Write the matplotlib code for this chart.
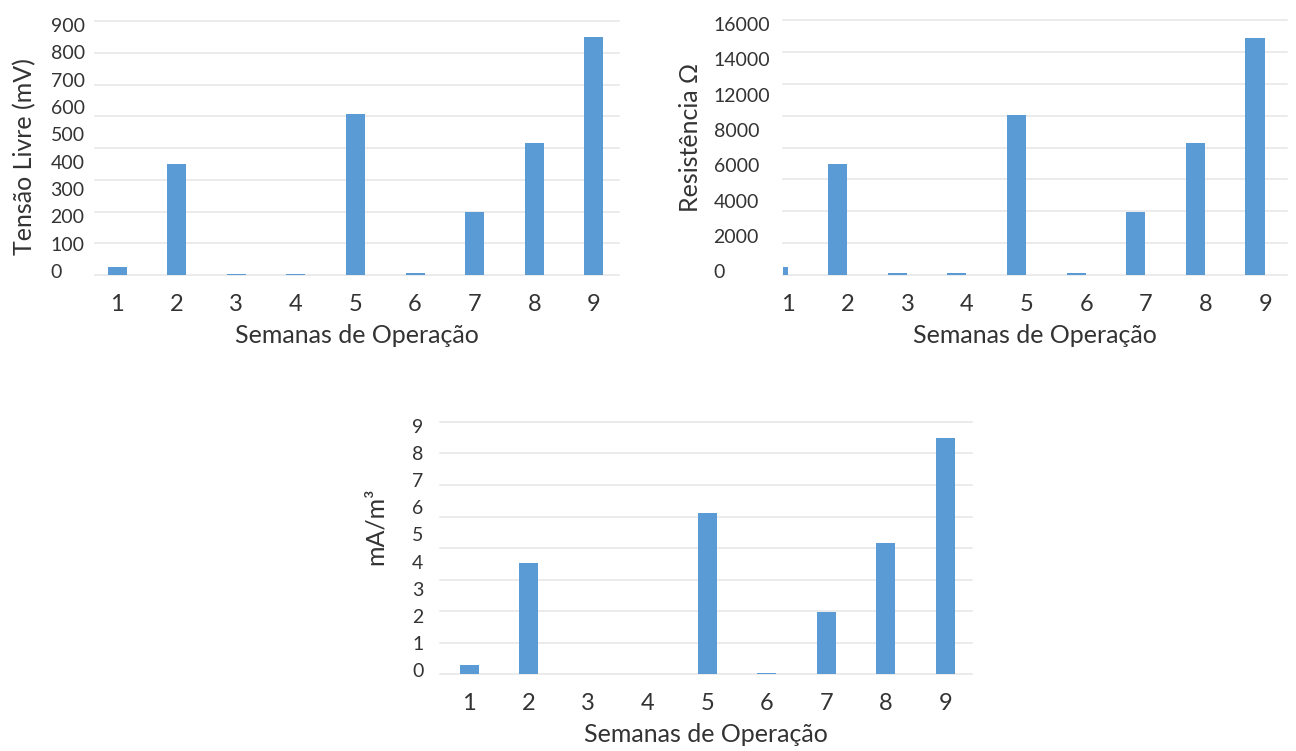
import matplotlib
matplotlib.use('Agg')
import matplotlib.pyplot as plt
import numpy as np

plt.rcParams['font.family'] = ['Lato', 'DejaVu Sans']

# ------------------------------------------------------------
# dados
# ------------------------------------------------------------
semanas = [1, 2, 3, 4, 5, 6, 7, 8, 9]
semanas_txt = ['1', '2', '3', '4', '5', '6', '7', '8', '9']

tensao_mv = [28, 393, 4, 4, 570, 6, 223, 468, 843]
resistencia = [500, 6965, 100, 110, 10040, 150, 3953, 8283, 14872]
densidade = [0.32, 3.96, 0.0, 0.0, 5.75, 0.03, 2.21, 4.68, 8.43]

ticks_tensao = ['0', '100', '200', '300', '400', '500', '600', '700', '800', '900']
ticks_resist = ['0', '2000', '4000', '6000', '8000', '12000', '14000', '16000']
ticks_dens = ['0', '1', '2', '3', '4', '5', '6', '7', '8', '9']

AZUL = '#5B9BD5'
GRADE = '#E6E6E6'
TEXTO = '#333333'


def desenha(ax, valores, ymax, rotulos_y, n_grade, ylabel, xlim, pad_y,
            ylab_xy, desloc_x=0.0):
    ax.bar(semanas, valores, width=0.32, color=AZUL, zorder=3)
    ax.set_xlim(*xlim)
    ax.set_ylim(0, ymax)

    # linhas de grade (independentes dos rótulos, como no original)
    for g in np.linspace(0, ymax, n_grade):
        ax.axhline(g, color=GRADE, linewidth=1.1, zorder=1, clip_on=False)

    # rótulos do eixo y um pouco "comprimidos", como no original
    ax.set_yticks(np.linspace(0.015 * ymax, 0.985 * ymax, len(rotulos_y)))
    ax.set_yticklabels(rotulos_y)
    for t in ax.get_yticklabels():
        t.set_horizontalalignment('left')
    ax.tick_params(axis='y', length=0, pad=pad_y, labelsize=14, labelcolor=TEXTO)

    ax.set_xticks(np.array(semanas) + desloc_x)
    ax.set_xticklabels(semanas_txt)
    ax.tick_params(axis='x', length=0, pad=14, labelsize=17, labelcolor=TEXTO)

    ax.set_xlabel('Semanas de Operação', fontsize=18, color=TEXTO, labelpad=6)
    ax.set_ylabel(ylabel, fontsize=18, color=TEXTO, va='center')
    ax.yaxis.set_label_coords(*ylab_xy)

    for s in ax.spines.values():
        s.set_visible(False)


fig = plt.figure(figsize=(12.96, 7.51), dpi=100)

ax1 = fig.add_axes([0.0733, 0.6338, 0.4043, 0.3382])
desenha(ax1, tensao_mv, 900, ticks_tensao, 9, 'Tensão Livre (mV)',
        (0.63, 9.42), 32, (-0.135, 0.465))

ax2 = fig.add_axes([0.6042, 0.6338, 0.3889, 0.3395])
desenha(ax2, resistencia, 16000, ticks_resist, 9, 'Resistência Ω',
        (1.084, 9.537), 50, (-0.183, 0.54), desloc_x=0.17)

ax3 = fig.add_axes([0.3395, 0.1025, 0.4105, 0.3356])
desenha(ax3, densidade, 9, ticks_dens, 9, 'mA/m³',
        (0.51, 9.45), 20, (-0.122, 0.587))

fig.savefig('out.png', dpi=100)
